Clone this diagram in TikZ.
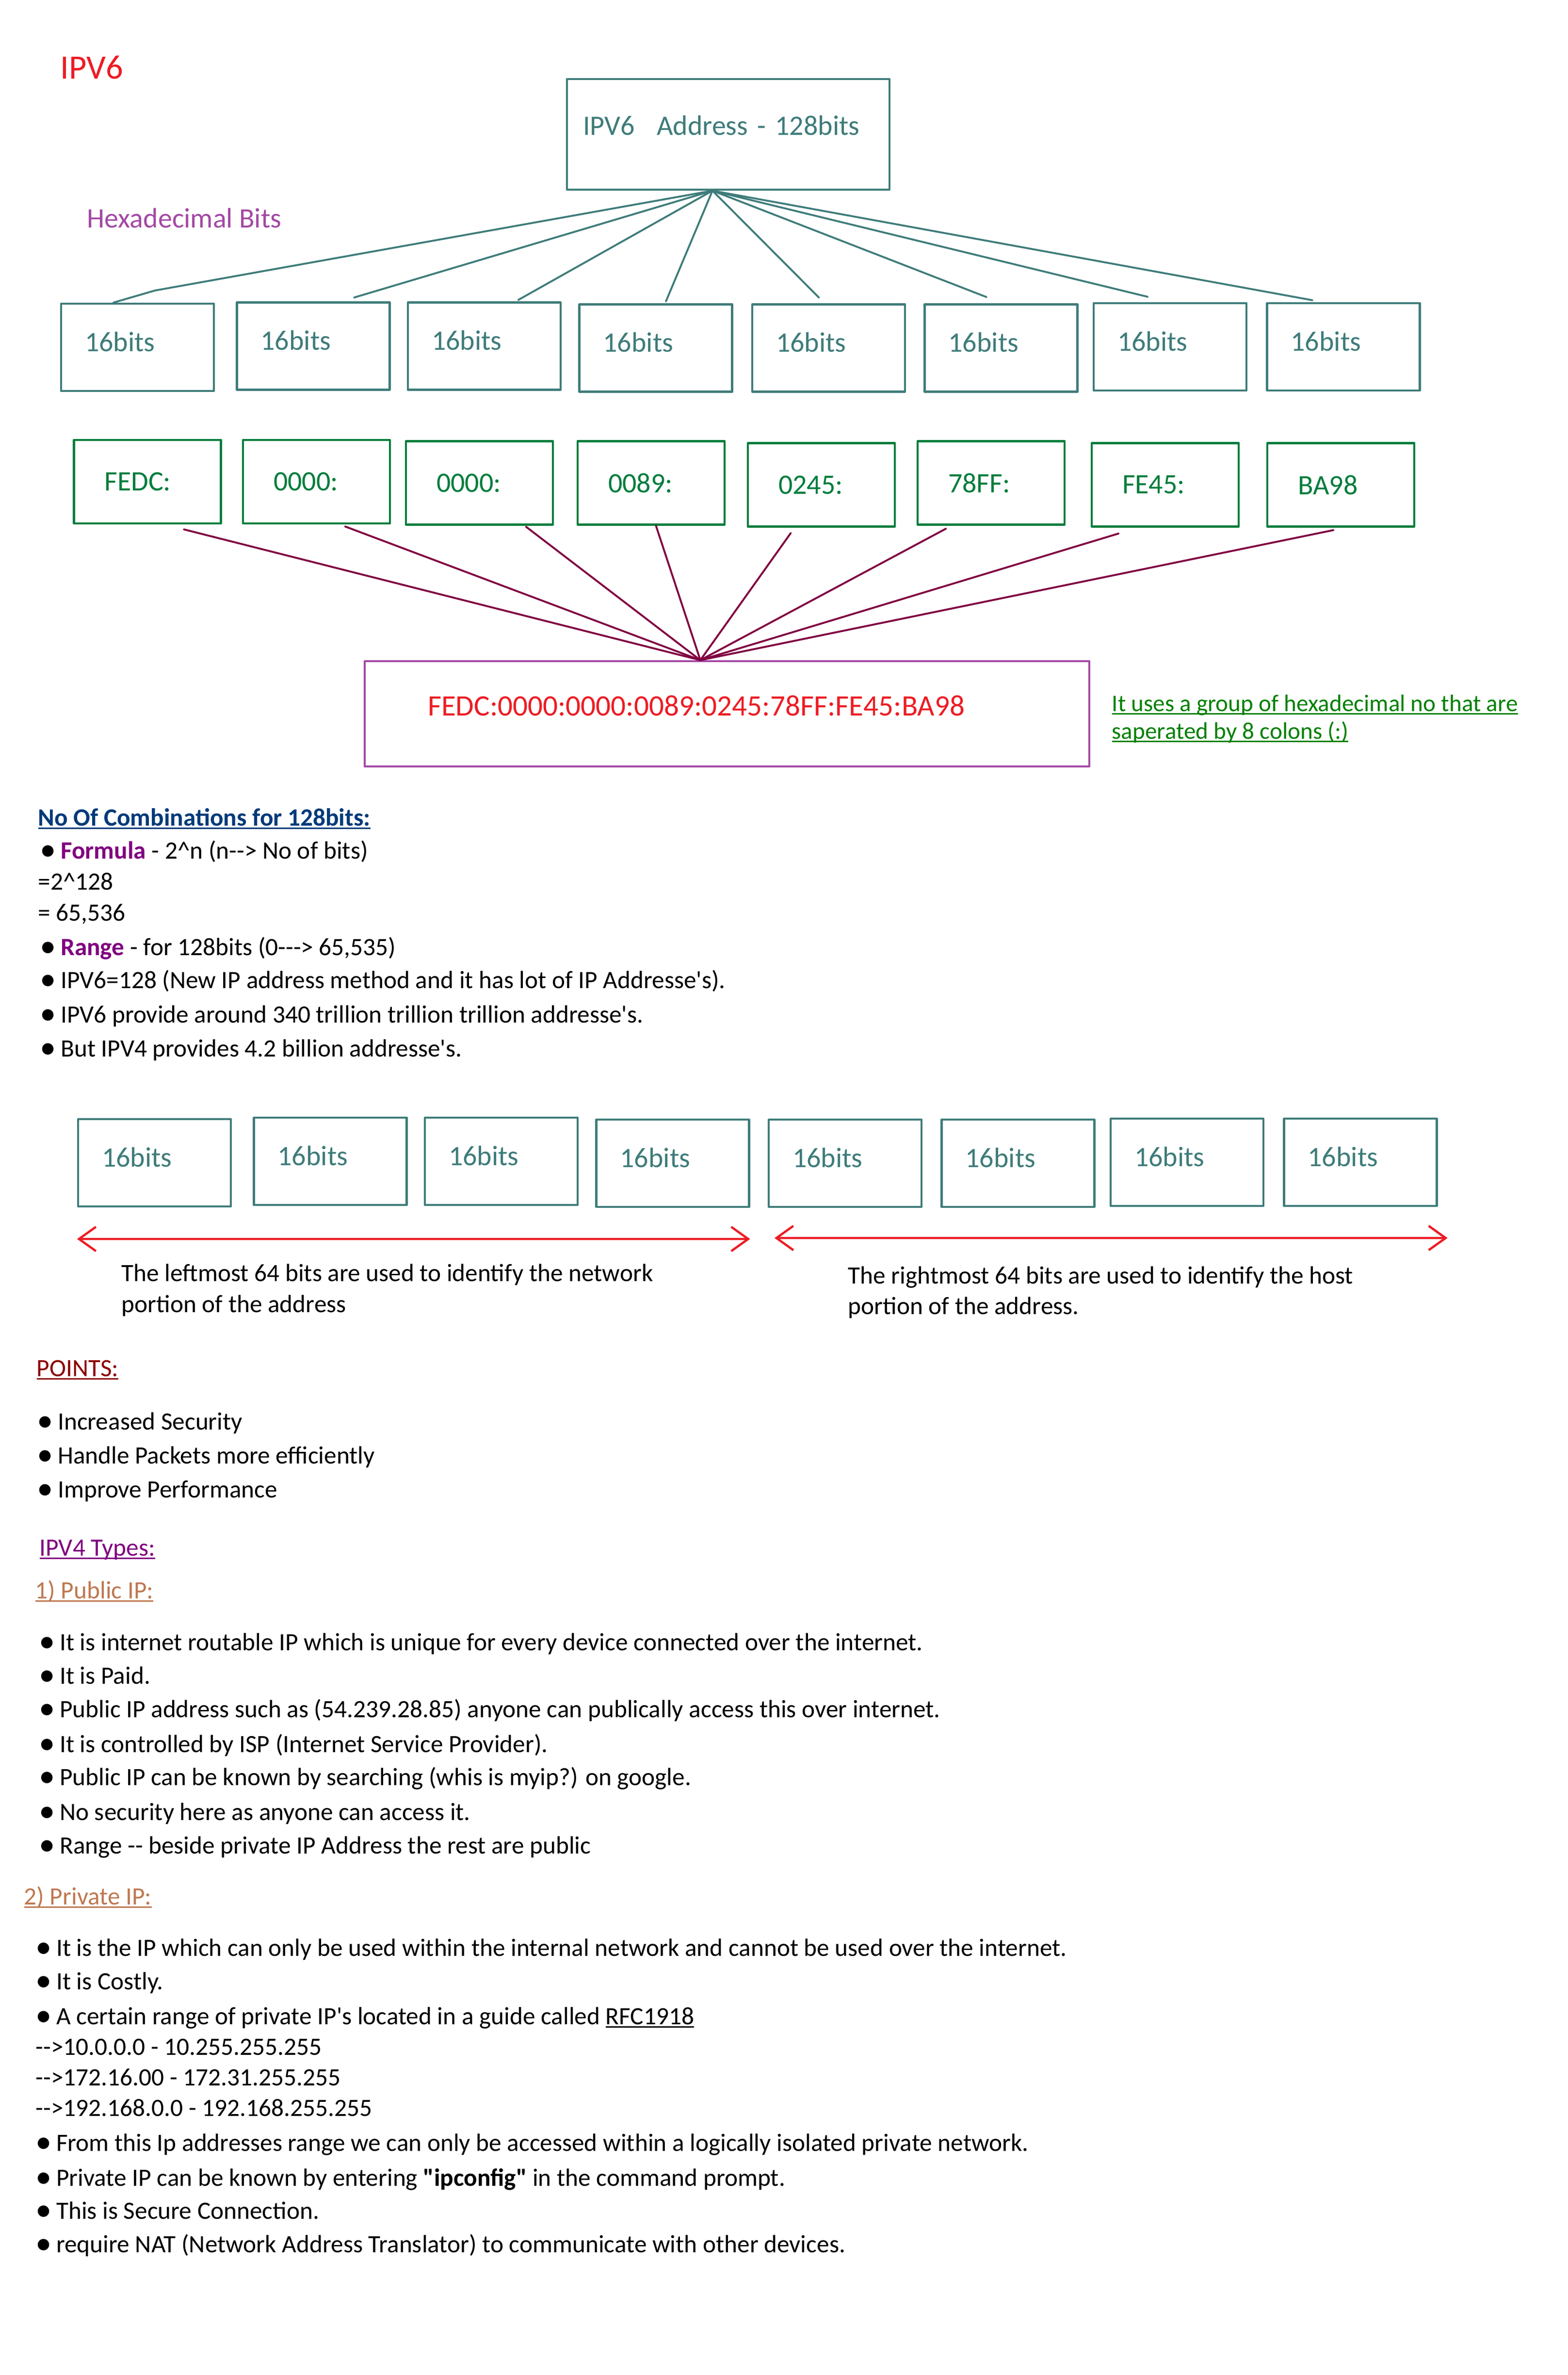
\documentclass[tikz,border=0pt]{standalone}
\usepackage{fontspec}
\usepackage{graphicx}
\newfontfamily\calib{Carlito}
\usetikzlibrary{arrows.meta, calc, positioning}
\definecolor{tealbox}{RGB}{62,124,122}
\definecolor{hexgreen}{RGB}{0,125,60}
\definecolor{linkmaroon}{RGB}{128,0,64}
\definecolor{paintred}{RGB}{237,28,36}
\definecolor{paintpurple}{RGB}{163,73,164}
\definecolor{notegreen}{RGB}{0,128,0}
\definecolor{headblue}{RGB}{0,58,122}
\definecolor{wordpurple}{RGB}{128,0,128}
\definecolor{pointsred}{RGB}{140,0,0}
\definecolor{typebrown}{RGB}{190,120,80}
\newsavebox\ulbox
\newcommand{\ulword}[1]{\sbox\ulbox{#1}\rlap{\rule[-0.14em]{\wd\ulbox}{0.065em}}\usebox\ulbox}
\newcommand{\bpt}{\raisebox{-0.06em}{\scalebox{1.3}{\textbullet}}\hspace{0.18em}}

\begin{document}
\begin{tikzpicture}[>={Straight Barb[length=3.5mm,width=5mm]}, line cap=round, line join=round,
	txt/.style={anchor=base west, inner sep=0pt, font=\calib\fontsize{14.6}{17.5}\selectfont},
	bitbox/.style={draw=tealbox, line width=1.2pt, text=tealbox, minimum height=1.8cm,
		text width=2.17cm, inner xsep=0.49cm, inner ysep=0pt, align=left,
		text height=0.40cm, text depth=0.24cm, font=\calib\fontsize{16.5}{19}\selectfont},
	hexbox/.style={draw=hexgreen, line width=1.3pt, text=hexgreen, minimum height=1.72cm,
		text width=1.77cm, inner xsep=0.63cm, inner ysep=0pt, align=left,
		font=\calib\fontsize{16.5}{19}\selectfont},
	tealline/.style={draw=tealbox, line width=1.1pt},
	hexline/.style={draw=linkmaroon, line width=1.1pt},
	redarrow/.style={draw=paintred, line width=1.3pt, <->}]
	
	\useasboundingbox (0,0) rectangle (32.32,-48.96);
	
	%========================
	% Top: 128 bit address split in 16 bit groups
	%========================
	\node[txt, text=paintred, font=\calib\fontsize{20}{24}\selectfont] (title) at (1.24,-1.63) {IPV6};
	\node[draw=tealbox, line width=1.2pt, text=tealbox, minimum height=2.28cm, text width=5.99cm,
	inner xsep=0.33cm, inner ysep=0pt, align=left, text height=0.42cm, text depth=0.38cm,
	font=\calib\fontsize{16.5}{19}\selectfont] (top) at (15.015,-2.77) {IPV6\hspace{0.45em} Address - 128bits};
	\node[txt, text=paintpurple, font=\calib\fontsize{16.5}{19}\selectfont] (hexbits) at (1.79,-4.70) {Hexadecimal Bits};
	
	% groups of 16 bits
	\node[bitbox] (b1) at (2.835,-7.16) {16bits};
	\node[bitbox] (b2) at (6.46,-7.135) {16bits};
	\node[bitbox] (b3) at (9.985,-7.135) {16bits};
	\node[bitbox] (b4) at (13.52,-7.175) {16bits};
	\node[bitbox] (b5) at (17.085,-7.175) {16bits};
	\node[bitbox] (b6) at (20.64,-7.175) {16bits};
	\node[bitbox] (b7) at (24.125,-7.15) {16bits};
	\node[bitbox] (b8) at (27.70,-7.15) {16bits};
	
	% fan out from the address box
	\coordinate (hub) at ($(top.south)+(-0.325,0)$);
	\draw[tealline] (hub) -- ($(b1.north)+(0.36,0.25)$) -- ($(b1.north)+(-0.5,0)$);
	\draw[tealline] (hub) -- ($(b2.north)+(0.84,0.08)$);
	\draw[tealline] (hub) -- ($(b3.north)+(0.70,0.03)$);
	\draw[tealline] (hub) -- ($(b4.north)+(0.21,0.04)$);
	\draw[tealline] (hub) -- ($(b5.north)+(-0.20,0.12)$);
	\draw[tealline] (hub) -- ($(b6.north)+(-0.30,0.13)$);
	\draw[tealline] (hub) -- ($(b7.north)+(-0.46,0.11)$);
	\draw[tealline] (hub) -- ($(b8.north)+(-0.64,0.04)$);
	
	% hexadecimal groups
	\node[hexbox] (h1) at (3.04,-9.93) {FEDC:};
	\node[hexbox] (h2) at (6.525,-9.93) {0000:};
	\node[hexbox] (h3) at (9.885,-9.955) {0000:};
	\node[hexbox] (h4) at (13.425,-9.955) {0089:};
	\node[hexbox] (h5) at (16.935,-9.995) {0245:};
	\node[hexbox] (h6) at (20.435,-9.955) {78FF:};
	\node[hexbox] (h7) at (24.025,-9.995) {FE45:};
	\node[hexbox] (h8) at (27.645,-9.995) {BA98};
	
	% full address
	\node[draw=paintpurple, line width=1.2pt, text=paintred, minimum height=2.17cm, text width=12.34cm,
	inner xsep=1.3cm, inner ysep=0pt, align=left, text height=0.40cm, text depth=0.32cm,
	font=\calib\fontsize{17.4}{20}\selectfont] (addr) at (14.99,-14.715) {FEDC:0000:0000:0089:0245:78FF:FE45:BA98};
	
	% fan in to the full address
	\coordinate (hub2) at ($(addr.north)+(-0.55,0)$);
	\draw[hexline] ($(h1.south)+(0.75,-0.10)$) -- (hub2);
	\draw[hexline] ($(h2.south)+(0.59,-0.04)$) -- (hub2);
	\draw[hexline] ($(h3.south)+(0.96,-0.02)$) -- (hub2);
	\draw[hexline] ($(h4.south)+(0.10,0)$) -- (hub2);
	\draw[hexline] ($(h5.south)+(-0.63,-0.11)$) -- (hub2);
	\draw[hexline] ($(h6.south)+(-0.93,-0.06)$) -- (hub2);
	\draw[hexline] ($(h7.south)+(-0.96,-0.12)$) -- (hub2);
	\draw[hexline] ($(h8.south)+(-0.15,-0.05)$) -- (hub2);
	
	\node[txt, text=notegreen, font=\calib\fontsize{14}{16.8}\selectfont] (note1) at (22.92,-14.66) {\ulword{It uses a group of hexadecimal no that are}};
	\node[txt, text=notegreen, font=\calib\fontsize{14}{16.8}\selectfont] (note2) at (22.92,-15.23) {\ulword{saperated by 8 colons (:)}};
	
	%========================
	% Combinations
	%========================
	\node[txt, text=headblue] (comb) at (0.78,-17.02) {\bfseries\ulword{No Of Combinations for 128bits:}};
	\node[txt] (formula) at (0.82,-17.70) {\bpt{\bfseries\color{wordpurple}Formula} - 2\textasciicircum n (n--> No of bits)};
	\node[txt] (pow) at (0.78,-18.34) {=2\textasciicircum 128};
	\node[txt] (value) at (0.78,-18.98) {= 65,536};
	\node[txt] (range) at (0.82,-19.69) {\bpt{\bfseries\color{wordpurple}Range} - for 128bits (0---> 65,535)};
	\node[txt] (new) at (0.82,-20.37) {\bpt IPV6=128 (New IP address method and it has lot of IP Addresse's).};
	\node[txt] (trillion) at (0.82,-21.08) {\bpt IPV6 provide around 340 trillion trillion trillion addresse's.};
	\node[txt] (billion) at (0.82,-21.78) {\bpt But IPV4 provides 4.2 billion addresse's.};
	
	%========================
	% Network / host halves
	%========================
	\node[bitbox] (c1) at (3.185,-23.97) {16bits};
	\node[bitbox] (c2) at (6.81,-23.94) {16bits};
	\node[bitbox] (c3) at (10.335,-23.94) {16bits};
	\node[bitbox] (c4) at (13.87,-23.98) {16bits};
	\node[bitbox] (c5) at (17.425,-23.98) {16bits};
	\node[bitbox] (c6) at (20.99,-23.98) {16bits};
	\node[bitbox] (c7) at (24.475,-23.96) {16bits};
	\node[bitbox] (c8) at (28.05,-23.96) {16bits};
	
	\coordinate (netL) at ($(c1.south west)+(0,-0.65)$);
	\coordinate (netR) at ($(c4.south east)+(0,-0.64)$);
	\coordinate (hostL) at ($(c5.south west)+(0.14,-0.62)$);
	\coordinate (hostR) at ($(c8.south east)+(0.2,-0.64)$);
	\draw[redarrow] (netL) -- (netR);
	\draw[redarrow] (hostL) -- (hostR);
	
	\node[txt] (net1) at (2.50,-26.41) {The leftmost 64 bits are used to identify the network};
	\node[txt] (net2) at (2.50,-27.05) {portion of the address};
	\node[txt] (host1) at (17.48,-26.46) {The rightmost 64 bits are used to identify the host};
	\node[txt] (host2) at (17.48,-27.09) {portion of the address.};
	
	%========================
	% Points
	%========================
	\node[txt, text=pointsred] (points) at (0.75,-28.37) {\ulword{POINTS:}};
	\node[txt] (p1) at (0.76,-29.47) {\bpt Increased Security};
	\node[txt] (p2) at (0.76,-30.17) {\bpt Handle Packets more efficiently};
	\node[txt] (p3) at (0.76,-30.87) {\bpt Improve Performance};
	
	%========================
	% IPV4 types
	%========================
	\node[txt, text=wordpurple] (types) at (0.81,-32.07) {\ulword{IPV4 Types:}};
	\node[txt, text=typebrown] (public) at (0.72,-32.95) {\ulword{1) Public IP:}};
	\node[txt] (pub1) at (0.80,-34.02) {\bpt It is internet routable IP which is unique for every device connected over the internet.};
	\node[txt] (pub2) at (0.80,-34.71) {\bpt It is Paid.};
	\node[txt] (pub3) at (0.80,-35.40) {\bpt Public IP address such as (54.239.28.85) anyone can publically access this over internet.};
	\node[txt] (pub4) at (0.80,-36.12) {\bpt It is controlled by ISP (Internet Service Provider).};
	\node[txt] (pub5) at (0.80,-36.80) {\bpt Public IP can be known by searching (whis is myip?) on google.};
	\node[txt] (pub6) at (0.80,-37.52) {\bpt No security here as anyone can access it.};
	\node[txt] (pub7) at (0.80,-38.21) {\bpt Range -- beside private IP Address the rest are public};
	
	\node[txt, text=typebrown] (private) at (0.49,-39.26) {\ulword{2) Private IP:}};
	\node[txt] (prv1) at (0.73,-40.32) {\bpt It is the IP which can only be used within the internal network and cannot be used over the internet.};
	\node[txt] (prv2) at (0.73,-41.01) {\bpt It is Costly.};
	\node[txt] (prv3) at (0.73,-41.73) {\bpt A certain range of private IP's located in a guide called \ulword{RFC1918}};
	\node[txt] (rng1) at (0.73,-42.36) {-->10.0.0.0 - 10.255.255.255};
	\node[txt] (rng2) at (0.73,-42.99) {-->172.16.00 - 172.31.255.255};
	\node[txt] (rng3) at (0.73,-43.62) {-->192.168.0.0 - 192.168.255.255};
	\node[txt] (prv4) at (0.73,-44.34) {\bpt From this Ip addresses range we can only be accessed within a logically isolated private network.};
	\node[txt] (prv5) at (0.73,-45.06) {\bpt Private IP can be known by entering \textbf{"ipconfig"} in the command prompt.};
	\node[txt] (prv6) at (0.73,-45.74) {\bpt This is Secure Connection.};
	\node[txt] (prv7) at (0.73,-46.43) {\bpt require NAT (Network Address Translator) to communicate with other devices.};
	
\end{tikzpicture}
\end{document}
